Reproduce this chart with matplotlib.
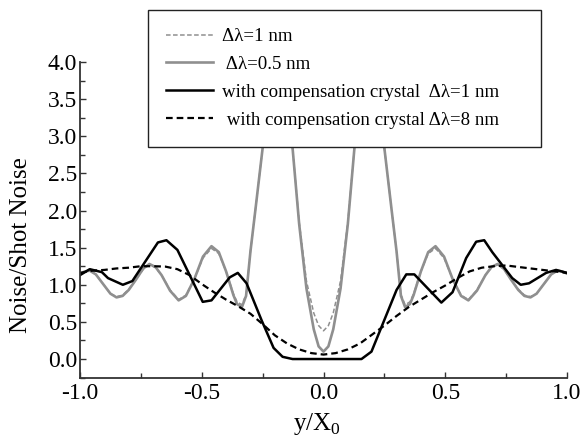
import numpy as np
import matplotlib
matplotlib.use("Agg")
from matplotlib import pyplot as plt
from matplotlib.ticker import MultipleLocator, FormatStrFormatter

plt.rcParams['font.family'] = ['Liberation Serif', 'DejaVu Serif']
plt.rcParams['mathtext.fontset'] = 'custom'
plt.rcParams['mathtext.rm'] = 'Liberation Serif'
plt.rcParams['axes.unicode_minus'] = False

# dl = 0.5 nm (gray solid)
x_05 = [-1.0, -0.98, -0.96, -0.935, -0.905, -0.875, -0.85, -0.825, -0.80, -0.77,
        -0.74, -0.715, -0.69, -0.665, -0.63, -0.595, -0.565, -0.53, -0.495, -0.46,
        -0.43, -0.40, -0.37, -0.355, -0.335, -0.318, -0.30, -0.28, -0.25, -0.22,
        -0.18, -0.15, -0.127, -0.10, -0.07, -0.04, -0.02, 0.0,
        0.02, 0.04, 0.07, 0.10, 0.127, 0.15, 0.18, 0.22, 0.25, 0.28,
        0.30, 0.318, 0.335, 0.355, 0.37, 0.40, 0.43, 0.46, 0.495, 0.53,
        0.565, 0.595, 0.63, 0.665, 0.69, 0.715, 0.74, 0.77, 0.80, 0.825,
        0.85, 0.875, 0.905, 0.935, 0.96, 0.98, 1.0]
y_05 = [1.15, 1.18, 1.19, 1.14, 1.01, 0.88, 0.83, 0.85, 0.93, 1.07,
        1.22, 1.28, 1.24, 1.13, 0.92, 0.79, 0.85, 1.08, 1.38, 1.52,
        1.44, 1.18, 0.86, 0.74, 0.70, 0.85, 1.45, 2.0, 2.84, 3.85,
        4.6, 4.1, 2.84, 1.82, 0.95, 0.40, 0.17, 0.10,
        0.17, 0.40, 0.95, 1.82, 2.84, 4.1, 4.6, 3.85, 2.84, 2.0,
        1.45, 0.85, 0.70, 0.74, 0.86, 1.18, 1.44, 1.52, 1.38, 1.08,
        0.85, 0.79, 0.92, 1.13, 1.24, 1.28, 1.22, 1.07, 0.93, 0.85,
        0.83, 0.88, 1.01, 1.14, 1.19, 1.18, 1.15]

# dl = 1 nm (gray dashed)
x_1 = x_05
y_1 = [1.15, 1.18, 1.19, 1.14, 1.01, 0.88, 0.84, 0.86, 0.94, 1.07,
       1.21, 1.27, 1.23, 1.13, 0.93, 0.80, 0.86, 1.08, 1.36, 1.49,
       1.42, 1.18, 0.88, 0.77, 0.73, 0.87, 1.45, 2.0, 2.84, 3.85,
       4.5, 4.1, 2.84, 1.85, 1.05, 0.62, 0.45, 0.38,
       0.45, 0.62, 1.05, 1.85, 2.84, 4.1, 4.5, 3.85, 2.84, 2.0,
       1.45, 0.87, 0.73, 0.77, 0.88, 1.18, 1.42, 1.49, 1.36, 1.08,
       0.86, 0.80, 0.93, 1.13, 1.23, 1.27, 1.21, 1.07, 0.94, 0.86,
       0.84, 0.88, 1.01, 1.14, 1.19, 1.18, 1.15]

# with compensation crystal, dl = 1 nm (black solid)
x_c1 = [-1.0, -0.96, -0.91, -0.885, -0.824, -0.785, -0.68, -0.645, -0.60, -0.496,
        -0.46, -0.385, -0.352, -0.316, -0.254, -0.205, -0.168, -0.127,
        0.156, 0.197, 0.30, 0.34, 0.373, 0.484, 0.53, 0.586, 0.627, 0.66,
        0.693, 0.775, 0.81, 0.844, 0.914, 0.955, 1.0]
y_c1 = [1.13, 1.21, 1.17, 1.09, 1.0, 1.05, 1.57, 1.60, 1.47, 0.77,
        0.79, 1.10, 1.16, 1.02, 0.52, 0.15, 0.03, 0.0,
        0.0, 0.10, 0.93, 1.14, 1.14, 0.76, 0.90, 1.36, 1.58, 1.60,
        1.44, 1.09, 1.0, 1.02, 1.16, 1.20, 1.16]

# with compensation crystal, dl = 8 nm (black dashed)
x_c8 = [-1.0, -0.95, -0.9, -0.85, -0.8, -0.75, -0.7, -0.65, -0.6, -0.55,
        -0.5, -0.45, -0.4, -0.35, -0.3, -0.25, -0.2, -0.15, -0.1, -0.05,
        0.0, 0.05, 0.1, 0.15, 0.2, 0.25, 0.3, 0.35, 0.4, 0.45,
        0.5, 0.55, 0.6, 0.65, 0.7, 0.75, 0.8, 0.85, 0.9, 0.95, 1.0]
y_c8 = [1.16, 1.19, 1.20, 1.22, 1.23, 1.25, 1.25, 1.245, 1.21, 1.13,
        1.01, 0.90, 0.80, 0.71, 0.61, 0.47, 0.32, 0.21, 0.13, 0.08,
        0.06, 0.08, 0.13, 0.21, 0.33, 0.45, 0.58, 0.70, 0.80, 0.90,
        0.99, 1.09, 1.18, 1.23, 1.25, 1.26, 1.24, 1.22, 1.20, 1.18, 1.16]

labels = ['\u0394\u03bb=1 nm', ' \u0394\u03bb=0.5 nm',
          'with compensation crystal  \u0394\u03bb=1 nm     ',
          ' with compensation crystal \u0394\u03bb=8 nm']

gray = '#8f8f8f'

fig = plt.figure(figsize=(5.82, 4.37), dpi=100)
ax = fig.add_axes([80/582, 1-377.6/437, 487/582, 315.6/437])

l1, = ax.plot(x_1, y_1, color=gray, lw=1.1, ls=(0, (3, 1.6)))
l2, = ax.plot(x_05, y_05, color=gray, lw=1.9)
l3, = ax.plot(x_c1, y_c1, color='black', lw=1.8)
l4, = ax.plot(x_c8, y_c8, color='black', lw=1.6, ls=(0, (3, 1.8)))

ax.set_xlim(-1.0, 1.0)
ax.set_ylim(-0.25, 4.0)
ax.xaxis.set_major_locator(MultipleLocator(0.5))
ax.xaxis.set_minor_locator(MultipleLocator(0.25))
ax.yaxis.set_minor_locator(MultipleLocator(0.25))
ax.set_yticks(np.arange(0, 4.01, 0.5))
ax.xaxis.set_major_formatter(FormatStrFormatter('%.1f'))
ax.yaxis.set_major_formatter(FormatStrFormatter('%.1f'))
ax.tick_params(which='both', direction='in', labelsize=17, color='#333333')
ax.tick_params(which='major', length=4.5, width=1.0)
ax.tick_params(which='minor', length=3.5, width=1.0)
ax.tick_params(axis='x', pad=4)
ax.tick_params(axis='y', pad=2)
for s in ['top', 'right']:
    ax.spines[s].set_visible(False)
for s in ['left', 'bottom']:
    ax.spines[s].set_linewidth(1.3)
    ax.spines[s].set_color('#333333')

ax.set_xlabel('y/X$_\\mathregular{0}$', fontsize=18)
ax.set_ylabel('Noise/Shot Noise', fontsize=18)
ax.xaxis.set_label_coords(0.486, -0.105)
ax.yaxis.set_label_coords(-0.098, 0.42)

leg = fig.legend([l1, l2, l3, l4], labels, loc='upper right',
                 bbox_to_anchor=(541/582, 1-10/437), borderaxespad=0,
                 fontsize=13.6, frameon=True, fancybox=False, framealpha=1,
                 edgecolor='#222222', handlelength=2.5, handletextpad=0.5,
                 labelspacing=0.56, borderpad=0.95)
leg.get_frame().set_linewidth(1.0)

plt.savefig('out.png', dpi=100)
